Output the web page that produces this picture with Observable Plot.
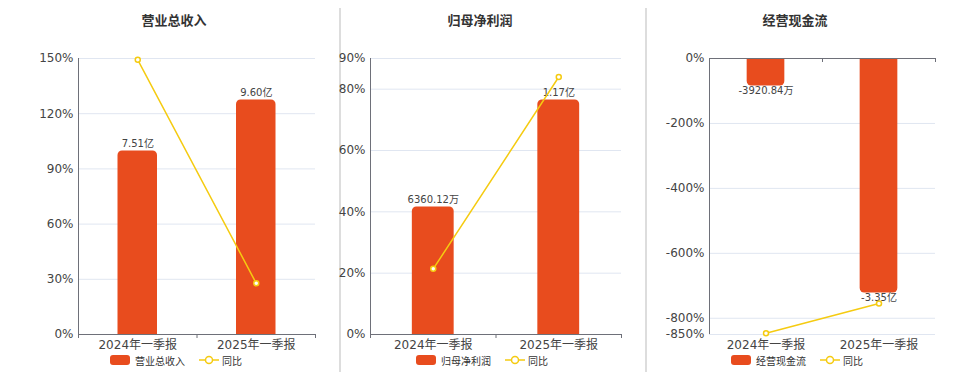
<!DOCTYPE html>
<html>
<head>
<meta charset="utf-8">
<script src="https://cdn.jsdelivr.net/npm/d3@7"></script>
<script src="https://cdn.jsdelivr.net/npm/@observablehq/plot@0.6"></script>
<style>
  html, body { margin: 0; padding: 0; background: #fff; }
  #root { position: relative; width: 960px; height: 372px; overflow: hidden; font-family: "DejaVu Sans", "Noto Sans CJK SC", sans-serif; }
  .panel { position: absolute; top: 0; }
  .panel svg { overflow: visible; }
  .title { position: absolute; top: 10px; font-size: 13px; font-weight: bold; color: #333; transform: translateX(-50%); white-space: nowrap; }
  .sep { position: absolute; top: 8px; width: 2px; height: 364px; background: #ddd; }
  .legend { position: absolute; top: 354px; height: 12px; display: flex; align-items: center; font-size: 10px; color: #333; white-space: nowrap; }
  .legend .sw { width: 20px; height: 10px; border-radius: 3px; margin-right: 5px; }
  .legend .ln { margin-left: 14px; margin-right: 3px; }
</style>
</head>
<body>
<div id="root"></div>
<script>
// ---- data ----
const categories = ["2024年一季报", "2025年一季报"];

const revenueValues = [7.51, 9.60];            // 亿
const revenueLabels = ["7.51亿", "9.60亿"];
const revenueYoY = [149.3, 27.83];             // %
const revenueTicks = [0, 30, 60, 90, 120, 150];

const profitValues = [0.636012, 1.17];         // 亿
const profitLabels = ["6360.12万", "1.17亿"];
const profitYoY = [21.4, 83.96];
const profitTicks = [0, 20, 40, 60, 80, 90];

const cashValues = [-0.392084, -3.35];         // 亿
const cashLabels = ["-3920.84万", "-3.35亿"];
const cashYoY = [-845.9, -754.4];
const cashTicks = [0, -200, -400, -600, -800, -850];

const titles = ["营业总收入", "归母净利润", "经营现金流"];

// ---- style ----
const barColor = "#E84C1E";
const lineColor = "#F5CB11";
const axisColor = "#6E7079";
const gridColor = "#E0E6F1";
const textColor = "#444";

const root = document.getElementById("root");

for (const x of [339, 645]) {
  const s = document.createElement("div");
  s.className = "sep";
  s.style.left = x + "px";
  root.appendChild(s);
}

function panel({left, width, marginLeft, marginRight, values, labels, yoy, ticks, title, titleX}) {
  const negative = d3.min(values) < 0;
  const domain = d3.extent(ticks);
  const yExt = negative ? -domain[0] : domain[1];
  const sign = negative ? -1 : 1;
  const barMax = d3.max(values, Math.abs) / 0.85; // hidden bar axis
  const data = categories.map((c, i) => ({
    i, c, v: values[i], yb: values[i] / barMax * yExt, lab: labels[i], yoy: yoy[i]
  }));
  const n = categories.length;
  const chart = Plot.plot({
    width, height: 372,
    marginTop: 58, marginBottom: 38, marginLeft, marginRight,
    style: {fontFamily: '"DejaVu Sans", "Noto Sans CJK SC", sans-serif', fontSize: "12px", color: textColor, background: "transparent"},
    x: {domain: [0, n]},
    y: {domain},
    marks: [
      Plot.gridY(ticks, {stroke: gridColor, strokeOpacity: 1}),
      Plot.axisY({ticks, tickSize: 0, tickPadding: 5, tickFormat: d => d + "%", label: null, fontSize: 12, fill: textColor}),
      // rounded bar whose base runs past the axis and is clipped by the frame,
      // so only the value end shows rounded corners
      Plot.rect(data, {x1: d => d.i + 1/3, x2: d => d.i + 2/3, y1: -sign * yExt * 0.04, y2: "yb", fill: barColor, rx: 4.5, ry: 4.5, clip: true}),
      Plot.ruleX([0], {stroke: axisColor}),
      Plot.ruleY([0], {stroke: axisColor}),
      Plot.ruleX(d3.range(n + 1), {x: d => d, y1: 0, y2: 0, insetBottom: -4, stroke: axisColor}),
      Plot.axisX({ticks: categories.map((c, i) => i + 0.5), tickFormat: d => categories[Math.floor(d)], tickSize: 0, tickPadding: 6, label: null, fontSize: 12, fill: textColor, anchor: "bottom"}),
      Plot.text(data, {x: d => d.i + 0.5, y: "yb", text: "lab", lineAnchor: negative ? "top" : "bottom", dy: negative ? 1 : -4, fontSize: 10, fill: textColor}),
      Plot.line(data, {x: d => d.i + 0.5, y: "yoy", stroke: lineColor, strokeWidth: 1.5}),
      Plot.dot(data, {x: d => d.i + 0.5, y: "yoy", r: 2.5, fill: "white", stroke: lineColor, strokeWidth: 1.5})
    ]
  });
  const div = document.createElement("div");
  div.className = "panel";
  div.style.left = left + "px";
  div.appendChild(chart);
  root.appendChild(div);

  const t = document.createElement("div");
  t.className = "title";
  t.style.left = titleX + "px";
  t.textContent = title;
  root.appendChild(t);
}

function legend(left, name) {
  const lg = document.createElement("div");
  lg.className = "legend";
  lg.style.left = left + "px";
  lg.innerHTML = `<span class="sw" style="background:${barColor}"></span><span>${name}</span>` +
    `<svg class="ln" width="20" height="10"><line x1="0" x2="20" y1="5" y2="5" stroke="${lineColor}" stroke-width="1.5"/><circle cx="10" cy="5" r="3.5" fill="white" stroke="${lineColor}" stroke-width="1.5"/></svg><span>同比</span>`;
  root.appendChild(lg);
}

panel({left: 0, width: 330, marginLeft: 78, marginRight: 15, values: revenueValues, labels: revenueLabels, yoy: revenueYoY, ticks: revenueTicks, title: titles[0], titleX: 174});
panel({left: 330, width: 310, marginLeft: 40, marginRight: 19, values: profitValues, labels: profitLabels, yoy: profitYoY, ticks: profitTicks, title: titles[1], titleX: 480});
panel({left: 646, width: 314, marginLeft: 63, marginRight: 25, values: cashValues, labels: cashLabels, yoy: cashYoY, ticks: cashTicks, title: titles[2], titleX: 795});

legend(110, titles[0]);
legend(416, titles[1]);
legend(731, titles[2]);
</script>
</body>
</html>
